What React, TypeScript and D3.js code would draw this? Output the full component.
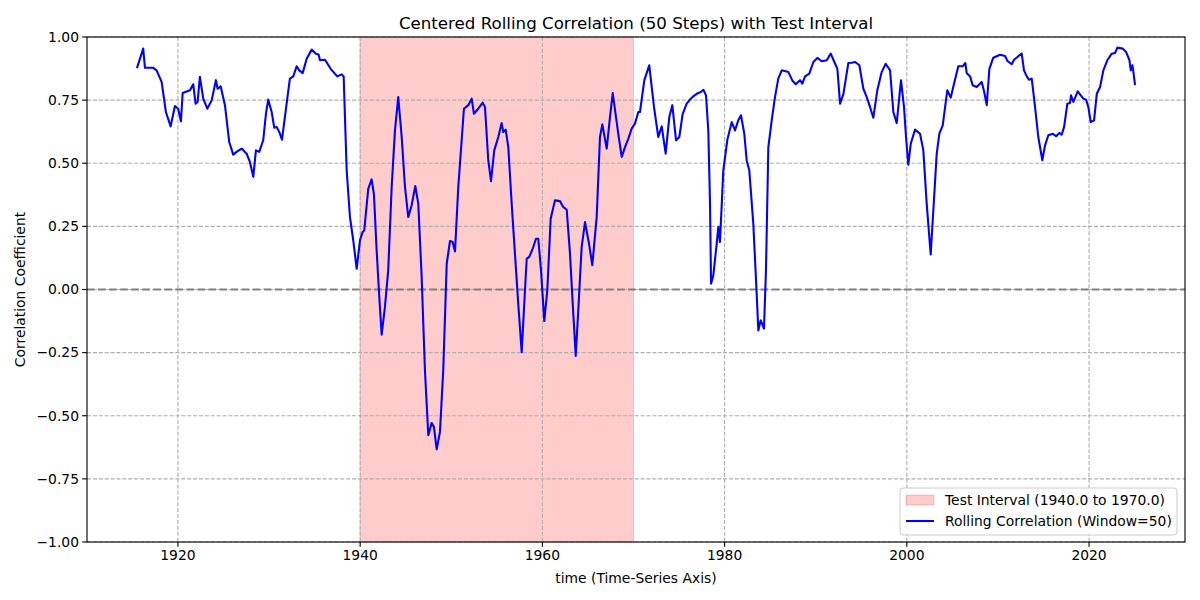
import React from "react";
import * as d3 from "d3";

const years: number[] = [
  1915.5, 1916.19, 1916.38, 1917.29, 1917.66, 1918.21, 1918.68, 1919.2, 1919.67, 1920.03,
  1920.33, 1920.52, 1921.32, 1921.68, 1921.94, 1922.16, 1922.41, 1922.78, 1923.22, 1923.7,
  1924.17, 1924.36, 1924.69, 1925.16, 1925.63, 1926.07, 1926.44, 1926.99, 1927.54, 1927.9,
  1928.27, 1928.56, 1928.92, 1929.36, 1929.66, 1929.91, 1930.29, 1930.57, 1930.83, 1931.12,
  1931.42, 1931.93, 1932.29, 1932.66, 1933.03, 1933.32, 1933.69, 1934.13, 1934.68, 1935.15,
  1935.44, 1935.59, 1936.14, 1936.76, 1937.49, 1937.97, 1938.19, 1938.52, 1938.88, 1939.24,
  1939.62, 1939.98, 1940.27, 1940.45, 1940.89, 1941.26, 1941.51, 1941.81, 1942.1, 1942.36,
  1942.72, 1943.08, 1943.46, 1943.82, 1944.18, 1944.56, 1944.92, 1945.28, 1945.65, 1946.05,
  1946.38, 1946.75, 1947.11, 1947.48, 1947.85, 1948.1, 1948.4, 1948.76, 1949.12, 1949.5,
  1949.86, 1950.15, 1950.41, 1950.77, 1951.39, 1951.87, 1952.24, 1952.49, 1952.96, 1953.45,
  1953.7, 1954.06, 1954.36, 1954.72, 1955.16, 1955.53, 1955.71, 1955.97, 1956.26, 1956.63,
  1956.99, 1957.35, 1957.73, 1958.09, 1958.28, 1958.56, 1958.94, 1959.3, 1959.55, 1959.85,
  1960.21, 1960.54, 1960.91, 1961.38, 1961.93, 1962.29, 1962.67, 1963.03, 1963.33, 1963.66,
  1963.94, 1964.31, 1964.68, 1965.12, 1965.48, 1965.96, 1966.32, 1966.58, 1967.06, 1967.42,
  1967.72, 1968.08, 1968.38, 1968.71, 1969.07, 1969.43, 1969.8, 1970.16, 1970.53, 1970.71,
  1971.19, 1971.73, 1972.25, 1972.72, 1973.1, 1973.53, 1973.93, 1974.26, 1974.67, 1975.03,
  1975.4, 1975.84, 1976.2, 1976.57, 1976.94, 1977.38, 1977.67, 1977.96, 1978.21, 1978.4,
  1978.51, 1978.76, 1979.13, 1979.31, 1979.49, 1979.86, 1980.3, 1980.78, 1981.14, 1981.5,
  1981.8, 1982.16, 1982.43, 1982.71, 1983.15, 1983.52, 1983.7, 1983.96, 1984.32, 1984.54,
  1984.8, 1985.17, 1985.53, 1985.89, 1986.27, 1987.0, 1987.43, 1987.81, 1988.28, 1988.53,
  1988.83, 1989.3, 1989.74, 1990.18, 1990.66, 1991.21, 1991.65, 1992.13, 1992.38, 1992.67,
  1993.04, 1993.58, 1993.95, 1994.32, 1994.79, 1995.23, 1995.6, 1995.96, 1996.32, 1996.76,
  1997.24, 1997.68, 1998.16, 1998.52, 1998.89, 1999.36, 1999.69, 1999.91, 2000.16, 2000.43,
  2000.9, 2001.45, 2001.81, 2002.18, 2002.62, 2002.91, 2003.28, 2003.57, 2003.94, 2004.44,
  2004.82, 2005.18, 2005.65, 2006.13, 2006.42, 2006.57, 2006.94, 2007.23, 2007.67, 2008.22,
  2008.47, 2008.77, 2009.06, 2009.49, 2010.23, 2010.78, 2011.05, 2011.51, 2011.77, 2012.24,
  2012.61, 2012.86, 2013.16, 2013.41, 2013.71, 2014.07, 2014.43, 2014.87, 2015.17, 2015.53,
  2016.01, 2016.38, 2016.74, 2017.0, 2017.26, 2017.62, 2017.91, 2018.02, 2018.28, 2018.76,
  2019.09, 2019.38, 2019.67, 2019.92, 2020.18, 2020.55, 2020.85, 2021.21, 2021.57, 2022.01,
  2022.49, 2022.86, 2023.11, 2023.7, 2024.06, 2024.43, 2024.58, 2024.76, 2024.87, 2025.05,
];

const correlation: number[] = [
  0.877, 0.954, 0.878, 0.878, 0.868, 0.822, 0.703, 0.646, 0.727, 0.716,
  0.666, 0.778, 0.789, 0.813, 0.736, 0.743, 0.842, 0.756, 0.716, 0.749,
  0.829, 0.795, 0.805, 0.73, 0.584, 0.534, 0.545, 0.558, 0.538, 0.505,
  0.446, 0.551, 0.545, 0.591, 0.696, 0.752, 0.703, 0.641, 0.644, 0.624,
  0.593, 0.736, 0.835, 0.844, 0.884, 0.868, 0.857, 0.914, 0.95, 0.934,
  0.931, 0.908, 0.91, 0.874, 0.844, 0.852, 0.844, 0.472, 0.287, 0.195,
  0.082, 0.195, 0.228, 0.234, 0.399, 0.436, 0.379, 0.155, -0.03, -0.179,
  -0.069, 0.076, 0.406, 0.63, 0.762, 0.604, 0.406, 0.287, 0.333, 0.41,
  0.34, 0.05, -0.32, -0.577, -0.529, -0.545, -0.633, -0.564, -0.32, 0.102,
  0.192, 0.188, 0.151, 0.406, 0.716, 0.73, 0.756, 0.696, 0.716, 0.74,
  0.723, 0.512, 0.429, 0.551, 0.604, 0.659, 0.624, 0.633, 0.564, 0.34,
  0.142, -0.056, -0.248, -0.003, 0.122, 0.129, 0.162, 0.201, 0.201, 0.076,
  -0.125, -0.003, 0.28, 0.353, 0.35, 0.327, 0.316, 0.142, -0.056, -0.263,
  -0.082, 0.168, 0.267, 0.181, 0.096, 0.287, 0.604, 0.654, 0.558, 0.683,
  0.778, 0.683, 0.604, 0.525, 0.564, 0.597, 0.637, 0.657, 0.703, 0.703,
  0.829, 0.888, 0.723, 0.604, 0.646, 0.538, 0.683, 0.73, 0.591, 0.604,
  0.696, 0.736, 0.752, 0.765, 0.775, 0.782, 0.791, 0.769, 0.63, 0.34,
  0.023, 0.056, 0.181, 0.248, 0.188, 0.472, 0.593, 0.663, 0.63, 0.67,
  0.69, 0.617, 0.509, 0.472, 0.261, -0.017, -0.162, -0.122, -0.155, 0.076,
  0.564, 0.67, 0.762, 0.835, 0.868, 0.861, 0.828, 0.813, 0.829, 0.815,
  0.844, 0.855, 0.901, 0.917, 0.904, 0.908, 0.934, 0.894, 0.874, 0.736,
  0.775, 0.897, 0.898, 0.901, 0.888, 0.795, 0.762, 0.723, 0.68, 0.789,
  0.861, 0.894, 0.868, 0.703, 0.659, 0.829, 0.723, 0.604, 0.494, 0.577,
  0.633, 0.617, 0.551, 0.34, 0.139, 0.314, 0.538, 0.617, 0.65, 0.789,
  0.76, 0.815, 0.884, 0.884, 0.897, 0.857, 0.844, 0.809, 0.802, 0.822,
  0.786, 0.73, 0.874, 0.918, 0.93, 0.925, 0.905, 0.892, 0.91, 0.924,
  0.934, 0.868, 0.844, 0.831, 0.835, 0.723, 0.604, 0.512, 0.571, 0.611,
  0.617, 0.607, 0.62, 0.613, 0.644, 0.736, 0.739, 0.769, 0.743, 0.785,
  0.769, 0.756, 0.752, 0.723, 0.663, 0.67, 0.775, 0.802, 0.868, 0.908,
  0.934, 0.937, 0.958, 0.954, 0.941, 0.908, 0.868, 0.888, 0.861, 0.809,
];

const xTicks: number[] = [1920, 1940, 1960, 1980, 2000, 2020];
const yTicks: number[] = [-1, -0.75, -0.5, -0.25, 0, 0.25, 0.5, 0.75, 1];
const testStart = 1940;
const testEnd = 1970;

const W = 1200;
const H = 600;
const M = { left: 87, right: 1185, top: 37, bottom: 542 };
const FONT = "DejaVu Sans, sans-serif";
const PT = 100 / 72;

export default function App() {
  const x = d3.scaleLinear().domain([1910.02, 2030.53]).range([M.left, M.right]);
  const y = d3.scaleLinear().domain([-1, 1]).range([M.bottom, M.top]);
  const pts: [number, number][] = years.map((yr, i) => [yr, correlation[i]]);
  const line = d3
    .line<[number, number]>()
    .x((d) => x(d[0]))
    .y((d) => y(d[1]));

  const legX = 900;
  const legY = 488;
  const gridDash = `${3.7 * 0.8 * PT},${1.6 * 0.8 * PT}`;
  const zeroDash = `${3.7 * 1.5 * PT},${1.6 * 1.5 * PT}`;
  const fs = 10 * PT;

  return (
    <svg
      width={W}
      height={H}
      style={{ position: "absolute", left: 0, top: 0, background: "#fff" }}
      fontFamily={FONT}
    >
      <rect x={0} y={0} width={W} height={H} fill="#fff" />
      <rect
        x={x(testStart)}
        y={M.top}
        width={x(testEnd) - x(testStart)}
        height={M.bottom - M.top}
        fill="#ff0000"
        fillOpacity={0.2}
        stroke="#ff0000"
        strokeOpacity={0.2}
        strokeWidth={1}
      />
      {xTicks.map((t) => (
        <line
          key={"gx" + t}
          x1={x(t)}
          x2={x(t)}
          y1={M.top}
          y2={M.bottom}
          stroke="#b0b0b0"
          strokeWidth={0.8 * PT}
          strokeDasharray={gridDash}
        />
      ))}
      {yTicks.map((t) => (
        <line
          key={"gy" + t}
          x1={M.left}
          x2={M.right}
          y1={y(t)}
          y2={y(t)}
          stroke="#b0b0b0"
          strokeWidth={0.8 * PT}
          strokeDasharray={gridDash}
        />
      ))}
      <line
        x1={M.left}
        x2={M.right}
        y1={y(0)}
        y2={y(0)}
        stroke="#808080"
        strokeWidth={1.5 * PT}
        strokeDasharray={zeroDash}
      />
      <path
        d={line(pts) || ""}
        fill="none"
        stroke="#0000ff"
        strokeWidth={1.5 * PT}
        strokeLinejoin="round"
        strokeLinecap="butt"
      />
      <rect
        x={M.left}
        y={M.top}
        width={M.right - M.left}
        height={M.bottom - M.top}
        fill="none"
        stroke="#000"
        strokeWidth={0.8 * PT}
      />
      {xTicks.map((t) => (
        <g key={"xt" + t}>
          <line x1={x(t)} x2={x(t)} y1={M.bottom} y2={M.bottom + 3.5 * PT} stroke="#000" strokeWidth={0.8 * PT} />
          <text x={x(t)} y={M.bottom + 18} textAnchor="middle" fontSize={fs} fill="#000">
            {t}
          </text>
        </g>
      ))}
      {yTicks.map((t) => (
        <g key={"yt" + t}>
          <line x1={M.left - 3.5 * PT} x2={M.left} y1={y(t)} y2={y(t)} stroke="#000" strokeWidth={0.8 * PT} />
          <text
            x={M.left - 8}
            y={y(t)}
            dy="0.35em"
            textAnchor="end"
            fontSize={fs}
            fill="#000"
          >
            {d3.format(".2f")(t).replace("-", "\u2212")}
          </text>
        </g>
      ))}
      <text x={(M.left + M.right) / 2} y={29} textAnchor="middle" fontSize={12 * PT} fill="#000">
        Centered Rolling Correlation (50 Steps) with Test Interval
      </text>
      <text x={(M.left + M.right) / 2} y={583} textAnchor="middle" fontSize={fs} fill="#000">
        time (Time-Series Axis)
      </text>
      <text
        transform={`translate(25,${(M.top + M.bottom) / 2}) rotate(-90)`}
        textAnchor="middle"
        fontSize={fs}
        fill="#000"
      >
        Correlation Coefficient
      </text>
      <g>
        <rect
          x={legX}
          y={legY}
          width={277}
          height={47}
          rx={3}
          fill="#fff"
          fillOpacity={0.8}
          stroke="#cccccc"
          strokeWidth={1}
        />
        <rect x={906} y={495} width={28} height={10} fill="#ff0000" fillOpacity={0.2} stroke="#ff0000" strokeOpacity={0.2} />
        <text x={945} y={505} fontSize={fs} fill="#000">
          Test Interval (1940.0 to 1970.0)
        </text>
        <line x1={906} x2={934} y1={521} y2={521} stroke="#0000ff" strokeWidth={1.5 * PT} />
        <text x={945} y={526} fontSize={fs} fill="#000">
          Rolling Correlation (Window=50)
        </text>
      </g>
    </svg>
  );
}
